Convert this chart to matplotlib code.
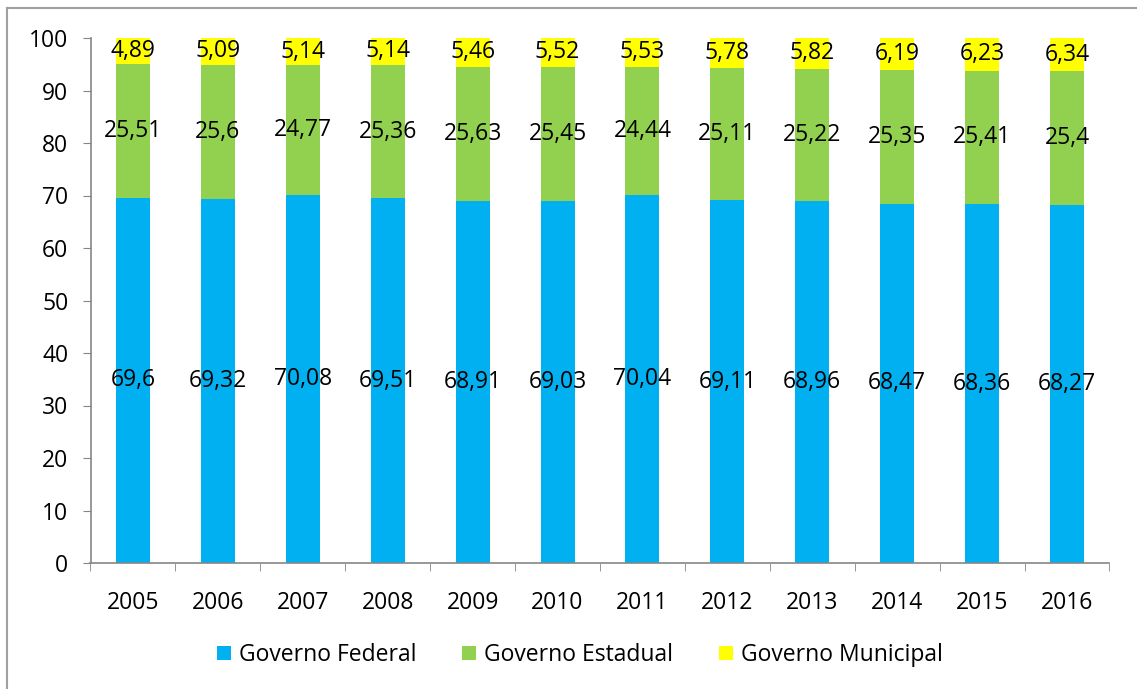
import matplotlib

matplotlib.use("Agg")
import matplotlib.pyplot as plt
import numpy as np
from matplotlib.lines import Line2D

years = ["2005", "2006", "2007", "2008", "2009", "2010",
         "2011", "2012", "2013", "2014", "2015", "2016"]
federal = [69.6, 69.32, 70.08, 69.51, 68.91, 69.03, 70.04, 69.11, 68.96, 68.47, 68.36, 68.27]
estadual = [25.51, 25.6, 24.77, 25.36, 25.63, 25.45, 24.44, 25.11, 25.22, 25.35, 25.41, 25.4]
municipal = [4.89, 5.09, 5.14, 5.14, 5.46, 5.52, 5.53, 5.78, 5.82, 6.19, 6.23, 6.34]

series = [
    ("Governo Federal", federal, "#00B0F0"),
    ("Governo Estadual", estadual, "#92D050"),
    ("Governo Municipal", municipal, "#FFFF00"),
]

plt.rcParams["font.family"] = ["Open Sans", "DejaVu Sans"]
FS = 16.5

W, H = 1137, 689
fig = plt.figure(figsize=(W / 100, H / 100), dpi=100)
ax = fig.add_axes([90.5 / W, 1 - 563 / H, (1109.5 - 90.5) / W, (563 - 38) / H])

x = np.arange(len(years))
bottom = np.zeros(len(years))
for name, vals, color in series:
    vals = np.array(vals)
    ax.bar(x, vals, bottom=bottom, width=0.4, color=color, label=name)
    for xi, b, v in zip(x, bottom, vals):
        ax.text(xi, b + v / 2, f"{v:g}".replace(".", ","), ha="center", va="center",
                fontsize=FS, color="black")
    bottom += vals

ax.set_xlim(-0.5, len(years) - 0.5)
ax.set_ylim(0, 100)
ax.set_yticks(range(0, 101, 10))
ax.tick_params(axis="y", labelsize=FS, length=6, color="#868686", pad=10)
ax.set_xticks(x)
ax.set_xticklabels(years, fontsize=FS)
ax.tick_params(axis="x", length=0, pad=20)
ax.set_xticks(np.arange(-0.5, len(years)), minor=True)
ax.tick_params(axis="x", which="minor", length=6, color="#868686")
for side in ("top", "right"):
    ax.spines[side].set_visible(False)
for side in ("left", "bottom"):
    ax.spines[side].set_color("#868686")
    ax.spines[side].set_linewidth(1.2)

handles, labels = ax.get_legend_handles_labels()
fig.legend(handles, labels, loc="center", bbox_to_anchor=(580 / W, 1 - 655 / H), ncol=3,
           frameon=False, fontsize=FS, handlelength=0.6, handleheight=0.6,
           columnspacing=2.0, handletextpad=0.35)

# outer chart border (top and left visible in the picture)
fig.add_artist(Line2D([7 / W, 1], [1 - 8 / H] * 2, color="#A0A0A0", lw=1.5))
fig.add_artist(Line2D([7 / W] * 2, [0, 1 - 8 / H], color="#A0A0A0", lw=1.5))

fig.savefig("out.png", dpi=100)
